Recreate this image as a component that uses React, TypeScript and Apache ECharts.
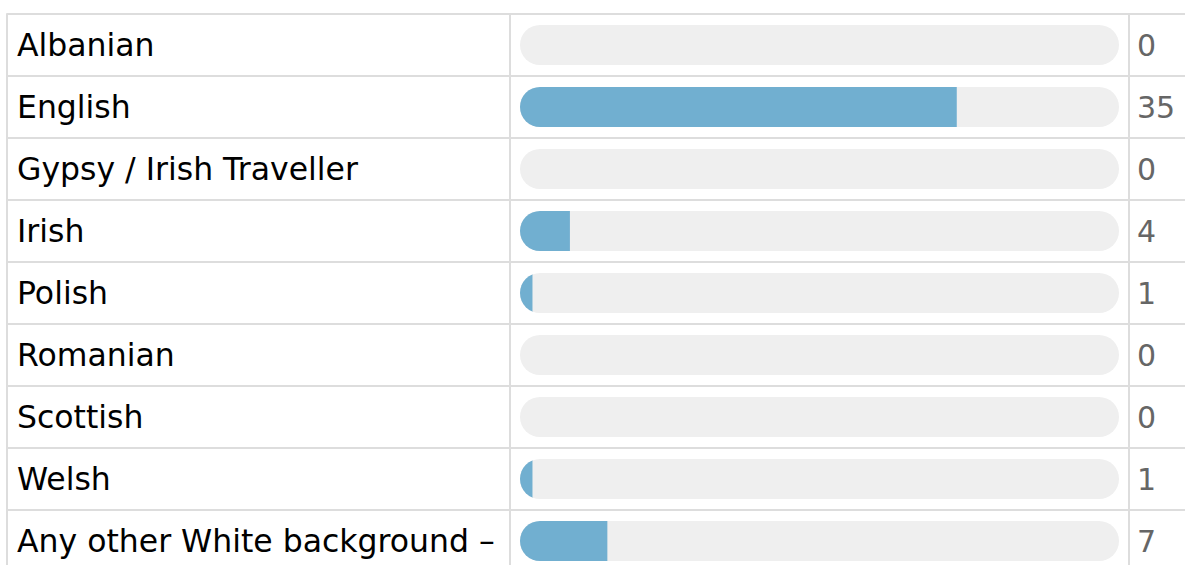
import React, { useEffect, useRef } from "react";
import * as echarts from "echarts";

const categories = [
  "Albanian",
  "English",
  "Gypsy / Irish Traveller",
  "Irish",
  "Polish",
  "Romanian",
  "Scottish",
  "Welsh",
  "Any other White background –",
];
const values = [0, 35, 0, 4, 1, 0, 0, 1, 7];
const total = values.reduce((a, b) => a + b, 0);

const FONT = "DejaVu Sans";
const LINE = "#dddddd";

export default function App() {
  const ref = useRef<HTMLDivElement>(null);
  useEffect(() => {
    if (!ref.current) return;
    const chart = echarts.init(ref.current, null, { renderer: "svg" });
    const option: any = {
      animation: false,
      backgroundColor: "#ffffff",
      grid: [
        { left: 520, right: 66, top: 14, height: 558, outerBoundsMode: "none", containLabel: false },
        { left: 7, right: 0, top: 14, height: 558, outerBoundsMode: "none", containLabel: false },
      ],
      xAxis: [
        { type: "value", gridIndex: 0, min: 0, max: total, show: false },
        { type: "value", gridIndex: 1, min: 0, max: 1, show: false },
      ],
      yAxis: [
        {
          type: "category",
          gridIndex: 0,
          inverse: true,
          data: categories,
          axisLine: { show: false },
          axisTick: { show: false },
          splitLine: { show: false },
          axisLabel: {
            interval: 0,
            align: "left",
            margin: 503,
            color: "#000000",
            fontFamily: FONT,
            fontSize: 31.5,
          },
        },
        {
          type: "category",
          gridIndex: 1,
          inverse: true,
          data: categories,
          axisLine: { show: true, lineStyle: { color: LINE, width: 2 } },
          axisTick: { show: false },
          axisLabel: { show: false },
          splitLine: { show: true, lineStyle: { color: LINE, width: 2 } },
        },
      ],
      graphic: [
        { type: "line", shape: { x1: 510, y1: 13, x2: 510, y2: 600 }, style: { stroke: LINE, lineWidth: 2 } },
        { type: "line", shape: { x1: 1129, y1: 13, x2: 1129, y2: 600 }, style: { stroke: LINE, lineWidth: 2 } },
      ],
      series: [
        {
          type: "custom",
          xAxisIndex: 0,
          yAxisIndex: 0,
          data: values.map((v, i) => [i, v]),
          encode: { y: 0, x: 1 },
          renderItem: (params: any, api: any) => {
            const idx = api.value(0);
            const v = api.value(1);
            const start = api.coord([0, idx]);
            const end = api.coord([total, idx]);
            const cur = api.coord([v, idx]);
            const h = 40;
            const y = start[1] - h / 2;
            const trackShape = { x: start[0], y, width: end[0] - start[0], height: h, r: h / 2 };
            return {
              type: "group",
              children: [
                { type: "rect", shape: trackShape, style: { fill: "#efefef" } },
                {
                  type: "rect",
                  shape: { x: start[0], y, width: Math.max(cur[0] - start[0], 0), height: h },
                  style: { fill: "#71afd0" },
                  clipPath: { type: "rect", shape: trackShape },
                },
                {
                  type: "text",
                  x: end[0] + 18,
                  y: start[1],
                  style: {
                    text: String(v),
                    fill: "#666666",
                    font: `30px "${FONT}"`,
                    verticalAlign: "middle",
                    align: "left",
                  },
                },
              ],
            };
          },
        },
      ],
    };
    chart.setOption(option);
    return () => chart.dispose();
  }, []);
  return (
    <div
      ref={ref}
      style={{ position: "fixed", left: 0, top: 0, width: 1185, height: 565 }}
    />
  );
}
